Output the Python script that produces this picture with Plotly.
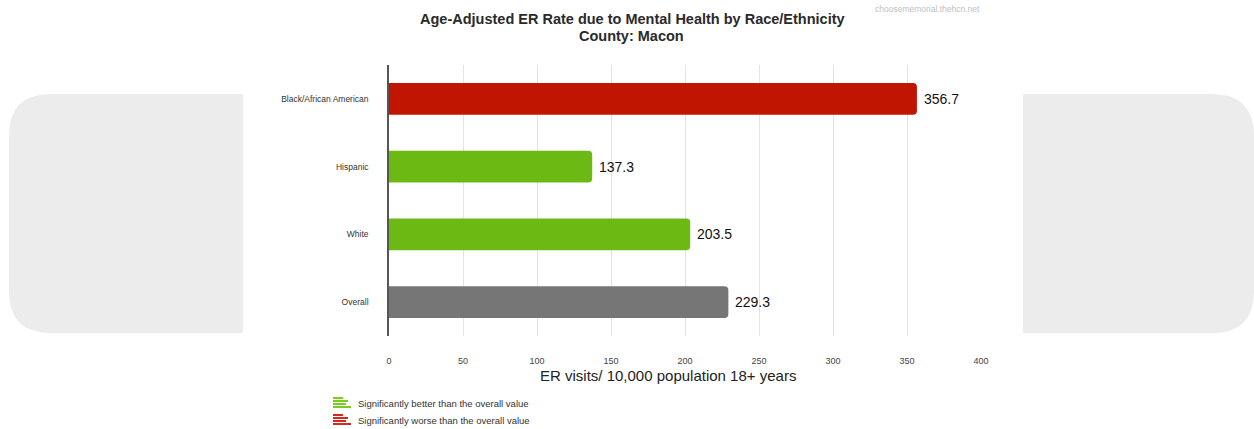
import plotly.graph_objects as go

# Rates by group (ER visits per 10,000 population 18+)
categories = ["Black/African American", "Hispanic", "White", "Overall"]
values = [356.7, 137.3, 203.5, 229.3]
bar_colors = ["#c01500", "#6db913", "#6db913", "#767676"]
tick_values = [0, 50, 100, 150, 200, 250, 300, 350, 400]
legend_labels = ["Significantly better than the overall value",
                 "Significantly worse than the overall value"]

W, H = 1254, 429
ML, MR, MT, MB = 389, 273, 65, 93
PW, PH = W - ML - MR, H - MT - MB
FONT = "Arial, Liberation Sans, sans-serif"


def px_x(px):
    return (px - ML) / PW


def px_y(py):
    return (H - MB - py) / PH


def rounded_panel(x0, y0, x1, y1, r, left=True):
    # pixel-space rectangle with two rounded corners, converted to paper units
    if left:
        pts = [("M", x1, y0), ("L", x0 + r, y0), ("Q", x0, y0, x0, y0 + r),
               ("L", x0, y1 - r), ("Q", x0, y1, x0 + r, y1), ("L", x1, y1)]
    else:
        pts = [("M", x0, y0), ("L", x1 - r, y0), ("Q", x1, y0, x1, y0 + r),
               ("L", x1, y1 - r), ("Q", x1, y1, x1 - r, y1), ("L", x0, y1)]
    parts = []
    for p in pts:
        cmd, coords = p[0], p[1:]
        xy = []
        for i in range(0, len(coords), 2):
            xy.append(f"{px_x(coords[i]):.5f},{px_y(coords[i + 1]):.5f}")
        parts.append(cmd + " ".join(xy))
    return " ".join(parts) + " Z"


fig = go.Figure()
fig.add_trace(go.Bar(
    y=categories, x=values, orientation="h",
    marker=dict(color=bar_colors, line=dict(width=0)),
    hoverinfo="skip",
))

annotations = []
for cat, v in zip(categories, values):
    annotations.append(dict(
        x=v, y=cat, xref="x", yref="y", text=f"{v:.1f}", showarrow=False,
        xanchor="left", xshift=5, font=dict(family=FONT, size=14, color="#111"),
    ))

# Title, subtitle and source
annotations.append(dict(
    x=px_x(632), y=px_y(19), xref="paper", yref="paper", showarrow=False,
    text="<b>Age-Adjusted ER Rate due to Mental Health by Race/Ethnicity</b>",
    font=dict(family=FONT, size=14.5, color="#2a2a2a"), xanchor="center", yanchor="middle",
))
annotations.append(dict(
    x=px_x(631), y=px_y(36), xref="paper", yref="paper", showarrow=False,
    text="<b>County: Macon</b>",
    font=dict(family=FONT, size=14.5, color="#2a2a2a"), xanchor="center", yanchor="middle",
))
annotations.append(dict(
    x=px_x(982), y=px_y(9), xref="paper", yref="paper", showarrow=False,
    text="choosememorial.thehcn.net",
    font=dict(family=FONT, size=8.5, color="#c0c0c0"), xanchor="right", yanchor="middle",
))

# Axis title
annotations.append(dict(
    x=px_x(668), y=px_y(375), xref="paper", yref="paper", showarrow=False,
    text="ER visits/ 10,000 population 18+ years",
    font=dict(family=FONT, size=15, color="#222"), xanchor="center", yanchor="middle",
))

# Legend text
for label, py in zip(legend_labels, [403, 420]):
    annotations.append(dict(
        x=px_x(356), y=px_y(py), xref="paper", yref="paper", showarrow=False,
        text=label, font=dict(family=FONT, size=9.5, color="#333"),
        xanchor="left", yanchor="middle",
    ))

shapes = [
    dict(type="path", xref="paper", yref="paper", layer="below",
         path=rounded_panel(9, 94, 243, 333, 42, left=True),
         fillcolor="#ececec", line=dict(width=0)),
    dict(type="path", xref="paper", yref="paper", layer="below",
         path=rounded_panel(1023, 94, 1254, 333, 42, left=False),
         fillcolor="#ececec", line=dict(width=0)),
]

# Legend icons: small stacked bars
icon_rows = [(0, 10), (3, 15), (6, 13), (9, 18)]
for color, top in [("#7ccc1c", 397), ("#d42a1e", 414)]:
    for dy, w in icon_rows:
        shapes.append(dict(
            type="rect", xref="paper", yref="paper",
            x0=px_x(333), x1=px_x(333 + w), y0=px_y(top + dy), y1=px_y(top + dy + 2),
            fillcolor=color, line=dict(width=0),
        ))

fig.update_layout(
    width=W, height=H,
    margin=dict(l=ML, r=MR, t=MT, b=MB, pad=0),
    paper_bgcolor="white", plot_bgcolor="white",
    showlegend=False,
    bargap=0.53,
    barcornerradius=4,
    font=dict(family=FONT, color="#333"),
    annotations=annotations,
    shapes=shapes,
    xaxis=dict(
        range=[0, 400], tickvals=tick_values, ticks="",
        showgrid=True, gridcolor="#e3e3e3", gridwidth=1,
        zeroline=False, showline=False,
        tickfont=dict(family=FONT, size=9, color="#444"),
        ticklabelstandoff=18,
        fixedrange=True,
    ),
    yaxis=dict(
        categoryorder="array", categoryarray=categories[::-1],
        ticks="", showgrid=False, zeroline=False,
        showline=True, linecolor="#555", linewidth=1.5,
        tickfont=dict(family=FONT, size=8.5, color="#333"),
        ticklabelstandoff=17,
        fixedrange=True,
    ),
)

fig.write_html("out.html")
